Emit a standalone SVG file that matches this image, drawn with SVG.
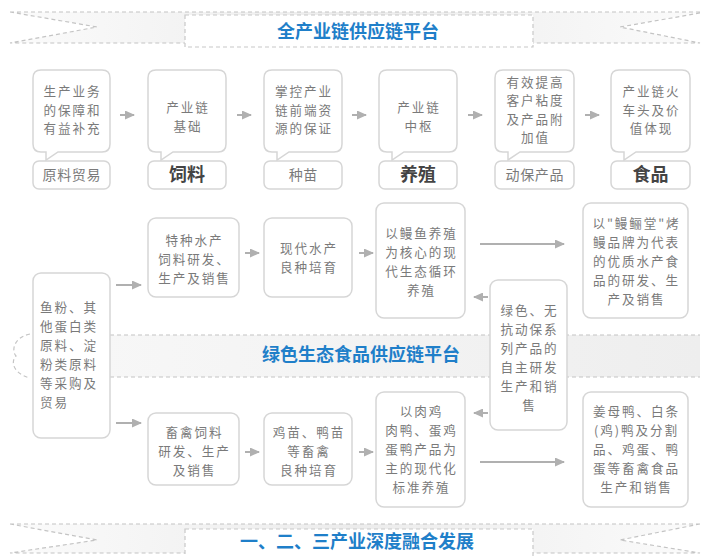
<svg xmlns="http://www.w3.org/2000/svg" width="701" height="556" viewBox="0 0 701 556">
<style>
.box{fill:#fff;stroke:#d6d6d6;stroke-width:1.5}
.t{font-family:"Noto Sans CJK SC","Noto Sans",sans-serif;font-size:12.6px;letter-spacing:1.9px;fill:#7a7a7a;text-anchor:middle}
.lb{font-family:"Noto Sans CJK SC","Noto Sans",sans-serif;font-size:14px;letter-spacing:0.6px;fill:#7a7a7a;text-anchor:middle}
.tl{text-anchor:start}
.b{font-family:"Noto Sans CJK SC","Noto Sans",sans-serif;font-size:18px;font-weight:bold;fill:#444;text-anchor:middle}
.title{font-family:"Noto Sans CJK SC","Noto Sans",sans-serif;font-size:18px;font-weight:bold;fill:#1f7fc9;text-anchor:middle}
.dash{fill:none;stroke:#c4c4c4;stroke-width:1.2;stroke-dasharray:4 3}
.ar{stroke:#b0b0b0;stroke-width:2;fill:none;marker-end:url(#ah)}
</style>
<defs>
<marker id="ah" markerUnits="userSpaceOnUse" markerWidth="10" markerHeight="9" refX="9" refY="4.5" orient="auto">
<path d="M0,0 L10,4.5 L0,9 z" fill="#b0b0b0"/>
</marker>
<linearGradient id="bandL" x1="0" y1="0" x2="1" y2="0">
<stop offset="0" stop-color="#fbfbfb"/>
<stop offset="0.5" stop-color="#ececec"/>
<stop offset="1" stop-color="#fbfbfb"/>
</linearGradient>
<linearGradient id="mid" x1="0" y1="0" x2="1" y2="0">
<stop offset="0" stop-color="#f8f8f8"/>
<stop offset="1" stop-color="#eeeeee"/>
</linearGradient>
</defs>

<!-- top banner -->
<g id="banner-top">
<path d="M10,12 L700,12 L620,27 L700,43 L10,43 L97,27 Z" fill="url(#bandL)"/>
<path class="dash" d="M10,12 L700,12 M10,12 L97,27 L10,43 L185,43 M700,13 L620,27 L700,43 L533,43"/>
<rect x="185" y="15" width="348" height="32" fill="#fff" stroke="#c8c8c8" stroke-width="1.2" stroke-dasharray="4 3"/>
<text class="title" x="358" y="38">全产业链供应链平台</text>
</g>

<!-- middle banner -->
<g id="banner-mid">
<rect x="33" y="335" width="667" height="42" fill="url(#mid)"/>
<path class="dash" d="M33,335 L700,335 M33,377 L700,377 M30,334 C12,338 12,352 16,356 C10,362 14,374 30,378"/>
<text class="title" x="361" y="361">绿色生态食品供应链平台</text>
</g>

<!-- bottom banner -->
<g id="banner-bottom">
<path d="M10,524 L700,524 L620,540 L700,553 L10,553 L97,540 Z" fill="url(#bandL)"/>
<path class="dash" d="M10,524 L700,524 M10,524 L97,540 L10,553 L185,553 M700,524 L620,540 L700,553 L533,553"/>
<rect x="185" y="529" width="348" height="32" fill="#fff" stroke="#c8c8c8" stroke-width="1.2" stroke-dasharray="4 3"/>
<text class="title" x="357" y="548">一、二、三产业深度融合发展</text>
</g>

<!-- row 1 -->
<g id="n1">
<path class="box" d="M41,70 H102 Q110,70 110,78 V144 Q110,152 102,152 H58 L46,160 V152 H41 Q33,152 33,144 V78 Q33,70 41,70 Z"/>
<text class="t"><tspan x="72.5" y="96">生产业务</tspan><tspan x="72.5" y="115">的保障和</tspan><tspan x="72.5" y="133">有益补充</tspan></text>
<rect class="box" x="33" y="161" width="77" height="28" rx="6"/>
<text class="lb" x="71.8" y="180">原料贸易</text>
</g>
<g id="n2">
<path class="box" d="M156,70 H218 Q226,70 226,78 V144 Q226,152 218,152 H173 L161,160 V152 H156 Q148,152 148,144 V78 Q148,70 156,70 Z"/>
<text class="t"><tspan x="188" y="112">产业链</tspan><tspan x="188" y="131">基础</tspan></text>
<rect class="box" x="148" y="161" width="78" height="28" rx="6"/>
<text class="b" x="187" y="181">饲料</text>
</g>
<g id="n3">
<path class="box" d="M272,70 H334 Q342,70 342,78 V144 Q342,152 334,152 H289 L277,160 V152 H272 Q264,152 264,144 V78 Q264,70 272,70 Z"/>
<text class="t"><tspan x="304" y="96">掌控产业</tspan><tspan x="304" y="115">链前端资</tspan><tspan x="304" y="133">源的保证</tspan></text>
<rect class="box" x="264" y="161" width="78" height="28" rx="6"/>
<text class="lb" x="303.3" y="180">种苗</text>
</g>
<g id="n4">
<path class="box" d="M387,70 H449 Q457,70 457,78 V144 Q457,152 449,152 H404 L392,160 V152 H387 Q379,152 379,144 V78 Q379,70 387,70 Z"/>
<text class="t"><tspan x="419" y="112">产业链</tspan><tspan x="419" y="131">中枢</tspan></text>
<rect class="box" x="379" y="161" width="78" height="28" rx="6"/>
<text class="b" x="418" y="181">养殖</text>
</g>
<g id="n5">
<path class="box" d="M503,70 H566 Q574,70 574,78 V144 Q574,152 566,152 H520 L508,160 V152 H503 Q495,152 495,144 V78 Q495,70 503,70 Z"/>
<text class="t"><tspan x="535.5" y="87">有效提高</tspan><tspan x="535.5" y="105">客户粘度</tspan><tspan x="535.5" y="124">及产品附</tspan><tspan x="535.5" y="142">加值</tspan></text>
<rect class="box" x="495" y="161" width="79" height="28" rx="6"/>
<text class="lb" x="534.8" y="180">动保产品</text>
</g>
<g id="n6">
<path class="box" d="M619,70 H682 Q690,70 690,78 V144 Q690,152 682,152 H636 L624,160 V152 H619 Q611,152 611,144 V78 Q611,70 619,70 Z"/>
<text class="t"><tspan x="651.5" y="96">产业链火</tspan><tspan x="651.5" y="115">车头及价</tspan><tspan x="651.5" y="133">值体现</tspan></text>
<rect class="box" x="611" y="161" width="79" height="28" rx="6"/>
<text class="b" x="650.5" y="181">食品</text>
</g>

<!-- rows 2/3 -->
<g id="n7">
<rect class="box" x="33" y="273" width="77" height="165" rx="8"/>
<text class="t tl"><tspan x="40" y="312">鱼粉、其</tspan><tspan x="40" y="331">他蛋白类</tspan><tspan x="40" y="350">原料、淀</tspan><tspan x="40" y="369">粉类原料</tspan><tspan x="40" y="388">等采购及</tspan><tspan x="40" y="407">贸易</tspan></text>
</g>
<g id="n8">
<rect class="box" x="148" y="218" width="91" height="79" rx="8"/>
<text class="t"><tspan x="194.5" y="245">特种水产</tspan><tspan x="194.5" y="264">饲料研发、</tspan><tspan x="194.5" y="283">生产及销售</tspan></text>
</g>
<g id="n9">
<rect class="box" x="264" y="218" width="88" height="79" rx="8"/>
<text class="t"><tspan x="309" y="253">现代水产</tspan><tspan x="309" y="272">良种培育</tspan></text>
</g>
<g id="n10">
<rect class="box" x="376" y="203" width="89" height="115" rx="8"/>
<text class="t"><tspan x="421.5" y="238">以鳗鱼养殖</tspan><tspan x="421.5" y="257">为核心的现</tspan><tspan x="421.5" y="276">代生态循环</tspan><tspan x="421.5" y="295">养殖</tspan></text>
</g>
<g id="n11">
<rect class="box" x="583" y="203" width="105" height="115" rx="8"/>
<text class="t"><tspan x="636.5" y="228">以"鳗鲡堂"烤</tspan><tspan x="636.5" y="247">鳗品牌为代表</tspan><tspan x="636.5" y="266">的优质水产食</tspan><tspan x="636.5" y="285">品的研发、生</tspan><tspan x="636.5" y="304">产及销售</tspan></text>
</g>
<g id="n12">
<rect class="box" x="490" y="280" width="77" height="150" rx="8"/>
<text class="t"><tspan x="529.5" y="315">绿色、无</tspan><tspan x="529.5" y="334">抗动保系</tspan><tspan x="529.5" y="353">列产品的</tspan><tspan x="529.5" y="372">自主研发</tspan><tspan x="529.5" y="391">生产和销</tspan><tspan x="529.5" y="410">售</tspan></text>
</g>
<g id="n13">
<rect class="box" x="148" y="413" width="91" height="72" rx="8"/>
<text class="t"><tspan x="194.5" y="437">畜禽饲料</tspan><tspan x="194.5" y="456">研发、生产</tspan><tspan x="194.5" y="475">及销售</tspan></text>
</g>
<g id="n14">
<rect class="box" x="264" y="413" width="88" height="72" rx="8"/>
<text class="t"><tspan x="309" y="437">鸡苗、鸭苗</tspan><tspan x="309" y="456">等畜禽</tspan><tspan x="309" y="475">良种培育</tspan></text>
</g>
<g id="n15">
<rect class="box" x="376" y="392" width="89" height="115" rx="8"/>
<text class="t"><tspan x="421.5" y="416">以肉鸡</tspan><tspan x="421.5" y="435">肉鸭、蛋鸡</tspan><tspan x="421.5" y="454">蛋鸭产品为</tspan><tspan x="421.5" y="473">主的现代化</tspan><tspan x="421.5" y="492">标准养殖</tspan></text>
</g>
<g id="n16">
<rect class="box" x="583" y="392" width="105" height="115" rx="8"/>
<text class="t"><tspan x="636.5" y="416">姜母鸭、白条</tspan><tspan x="636.5" y="435">(鸡)鸭及分割</tspan><tspan x="636.5" y="454">品、鸡蛋、鸭</tspan><tspan x="636.5" y="473">蛋等畜禽食品</tspan><tspan x="636.5" y="492">生产和销售</tspan></text>
</g>

<!-- connectors -->
<g id="connectors">
<line class="ar" x1="120" y1="115" x2="134" y2="115"/>
<line class="ar" x1="237" y1="115" x2="251" y2="115"/>
<line class="ar" x1="352" y1="115" x2="366" y2="115"/>
<line class="ar" x1="468" y1="115" x2="482" y2="115"/>
<line class="ar" x1="585" y1="115" x2="599" y2="115"/>
<line class="ar" x1="116" y1="285" x2="141" y2="285"/>
<line class="ar" x1="245" y1="253" x2="259" y2="253"/>
<line class="ar" x1="359" y1="253" x2="373" y2="253"/>
<line class="ar" x1="480" y1="244" x2="564" y2="244"/>
<line class="ar" x1="488" y1="297" x2="474" y2="297"/>
<line class="ar" x1="116" y1="423" x2="141" y2="423"/>
<line class="ar" x1="245" y1="452" x2="259" y2="452"/>
<line class="ar" x1="359" y1="452" x2="373" y2="452"/>
<line class="ar" x1="488" y1="413" x2="474" y2="413"/>
<line class="ar" x1="480" y1="462" x2="564" y2="462"/>
</g>
</svg>
